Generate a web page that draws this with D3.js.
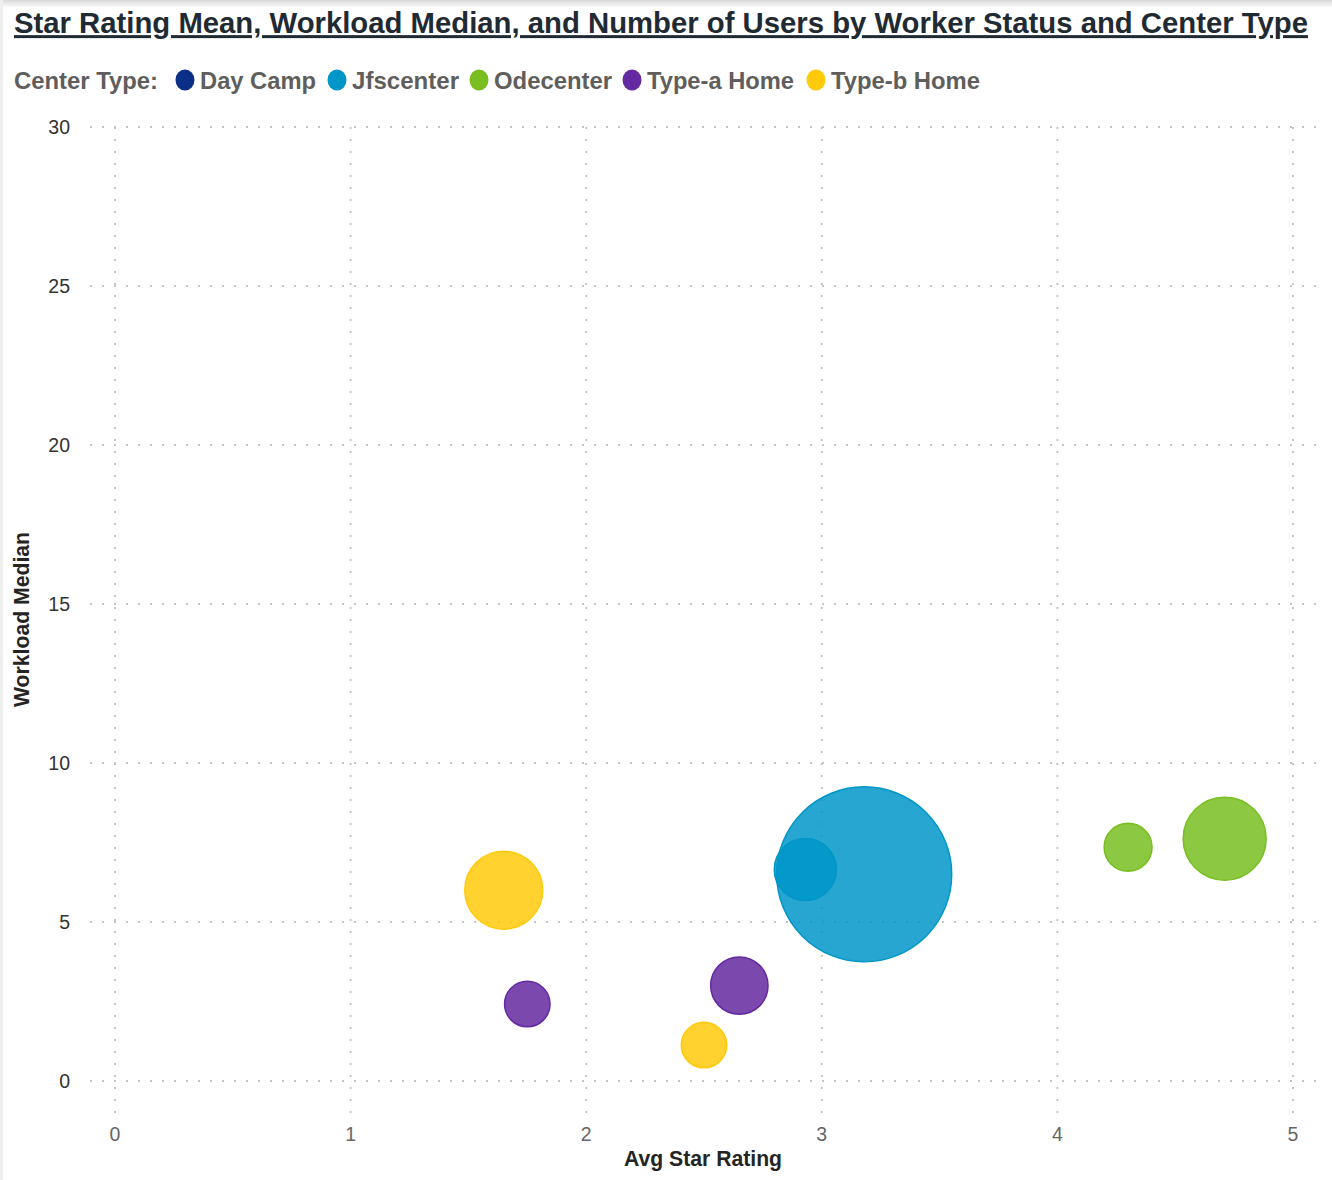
<!DOCTYPE html>
<html>
<head>
<meta charset="utf-8">
<script src="https://cdn.jsdelivr.net/npm/d3@7"></script>
<style>
  body { margin: 0; background: #fff; }
  svg { display: block; font-family: "Liberation Sans", Arial, sans-serif; }
</style>
</head>
<body>
<div id="d3-container"></div>
<script>
/**
 * CONSTANTS AND GLOBALS
 * */
const width = 1332,
  height = 1180,
  margin = { top: 127, bottom: 99, left: 115, right: 39 };

// center types + legend colours
const centerTypes = ["Day Camp", "Jfscenter", "Odecenter", "Type-a Home", "Type-b Home"];
const centerColors = ["#0A2F87", "#0096C8", "#78BE20", "#6428A0", "#FFCA0A"];

// one bubble per worker status / center type
const bubbleType = ["Jfscenter", "Jfscenter", "Type-b Home", "Type-a Home", "Type-a Home", "Type-b Home", "Odecenter", "Odecenter"];
const starRating = [3.18, 2.93, 1.65, 1.75, 2.65, 2.50, 4.30, 4.71];
const workload   = [6.5, 6.65, 6.0, 2.42, 3.0, 1.13, 7.35, 7.62];
const users      = [1200, 151, 238, 81, 129, 81, 90, 270];

const xTicks = [0, 1, 2, 3, 4, 5];
const yTicks = [0, 5, 10, 15, 20, 25, 30];

let svg;

function init() {
  svg = d3.select("#d3-container")
    .append("svg")
    .attr("width", width)
    .attr("height", height);

  // thin page frame like the screenshot
  const defs = svg.append("defs");
  const grad = defs.append("linearGradient").attr("id", "topShade")
    .attr("x1", 0).attr("y1", 0).attr("x2", 0).attr("y2", 1);
  grad.append("stop").attr("offset", "0%").attr("stop-color", "#d8d8d8");
  grad.append("stop").attr("offset", "100%").attr("stop-color", "#ffffff");
  svg.append("rect").attr("x", 0).attr("y", 0).attr("width", width).attr("height", 8).attr("fill", "url(#topShade)");
  svg.append("rect").attr("x", 0).attr("y", 0).attr("width", 3).attr("height", height).attr("fill", "#eeeeee");

  const x = d3.scaleLinear().domain([0, 5]).range([margin.left, width - margin.right]);
  const y = d3.scaleLinear().domain([0, 30]).range([height - margin.bottom, margin.top]);
  const r = d3.scaleSqrt().domain([0, d3.max(users)]).range([0, 87.5]);
  const color = d3.scaleOrdinal().domain(centerTypes).range(centerColors);

  // title (stretched vertically a bit, the original font is narrow and tall)
  svg.append("text")
    .attr("transform", "translate(14,33) scale(1,1.15)")
    .attr("font-size", 26).attr("font-weight", "bold")
    .attr("fill", "#1F2A33")
    .attr("text-decoration", "underline")
    .attr("textLength", 1294).attr("lengthAdjust", "spacingAndGlyphs")
    .text("Star Rating Mean, Workload Median, and Number of Users by Worker Status and Center Type");

  // legend
  const legendX = [185, 337, 479, 632, 816];
  const legendW = [116, 107, 118, 147, 149];
  svg.append("text")
    .attr("x", 14).attr("y", 89)
    .attr("font-size", 24).attr("font-weight", "bold").attr("fill", "#605E5C")
    .attr("textLength", 144).attr("lengthAdjust", "spacingAndGlyphs")
    .text("Center Type:");
  const leg = svg.selectAll("g.legend")
    .data(centerTypes)
    .join("g")
    .attr("class", "legend")
    .attr("transform", (d, i) => `translate(${legendX[i]},80)`);
  leg.append("ellipse").attr("rx", 9.5).attr("ry", 10.5).attr("fill", d => color(d));
  leg.append("text")
    .attr("x", 15).attr("y", 9)
    .attr("font-size", 24).attr("font-weight", "bold").attr("fill", "#605E5C")
    .attr("textLength", (d, i) => legendW[i]).attr("lengthAdjust", "spacingAndGlyphs")
    .text(d => d);

  // gridlines (dotted)
  svg.append("g")
    .selectAll("line")
    .data(yTicks)
    .join("line")
    .attr("x1", 90).attr("x2", width - 10)
    .attr("y1", d => y(d)).attr("y2", d => y(d))
    .attr("stroke", "#c4c4c4").attr("stroke-width", 2)
    .attr("stroke-dasharray", "2,10");

  svg.append("g")
    .selectAll("line")
    .data(xTicks)
    .join("line")
    .attr("x1", d => x(d)).attr("x2", d => x(d))
    .attr("y1", y(30)).attr("y2", 1115)
    .attr("stroke", "#c4c4c4").attr("stroke-width", 2)
    .attr("stroke-dasharray", "2,10");

  // tick labels
  svg.append("g")
    .selectAll("text")
    .data(yTicks)
    .join("text")
    .attr("x", 70).attr("y", d => y(d) + 7)
    .attr("text-anchor", "end")
    .attr("font-size", 19.5).attr("fill", "#333")
    .text(d => d);

  svg.append("g")
    .selectAll("text")
    .data(xTicks)
    .join("text")
    .attr("x", d => x(d)).attr("y", 1141)
    .attr("text-anchor", "middle")
    .attr("font-size", 19.5).attr("fill", "#666")
    .text(d => d);

  // axis titles
  svg.append("text")
    .attr("x", 703).attr("y", 1166)
    .attr("text-anchor", "middle")
    .attr("font-size", 21.5).attr("font-weight", "bold").attr("fill", "#252423")
    .attr("textLength", 158).attr("lengthAdjust", "spacingAndGlyphs")
    .text("Avg Star Rating");

  svg.append("text")
    .attr("transform", "translate(29,619.5) rotate(-90)")
    .attr("text-anchor", "middle")
    .attr("font-size", 21.5).attr("font-weight", "bold").attr("fill", "#252423")
    .attr("textLength", 175).attr("lengthAdjust", "spacingAndGlyphs")
    .text("Workload Median");

  // bubbles, biggest first
  const data = users.map((u, i) => ({
    type: bubbleType[i], rating: starRating[i], workload: workload[i], users: u
  })).sort((a, b) => b.users - a.users);

  svg.append("g")
    .selectAll("circle")
    .data(data)
    .join("circle")
    .attr("cx", d => x(d.rating))
    .attr("cy", d => y(d.workload))
    .attr("r", d => r(d.users))
    .attr("fill", d => color(d.type))
    .attr("fill-opacity", 0.85)
    .attr("stroke", d => color(d.type))
    .attr("stroke-width", 1.5);
}

init();
</script>
</body>
</html>
